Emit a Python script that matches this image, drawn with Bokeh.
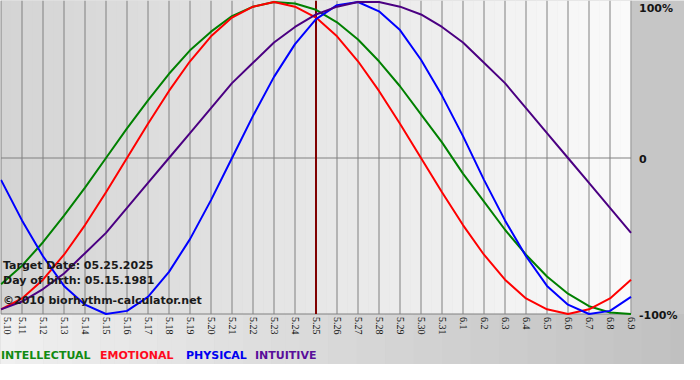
import math
import numpy as np
from bokeh.plotting import figure
from bokeh.models import Range1d, Label, LabelSet, ColumnDataSource
from bokeh.embed import file_html
from bokeh.resources import INLINE

# ---------------- data ----------------
dates = ["5.10", "5.11", "5.12", "5.13", "5.14", "5.15", "5.16", "5.17", "5.18", "5.19",
         "5.20", "5.21", "5.22", "5.23", "5.24", "5.25", "5.26", "5.27", "5.28", "5.29",
         "5.30", "5.31", "6.1", "6.2", "6.3", "6.4", "6.5", "6.6", "6.7", "6.8", "6.9"]

intellectual = [-0.81, -0.69, -0.54, -0.37, -0.19, 0.00, 0.19, 0.37, 0.54, 0.69, 0.81, 0.91,
                0.97, 1.00, 0.99, 0.95, 0.87, 0.76, 0.62, 0.46, 0.28, 0.10, -0.10, -0.28,
                -0.46, -0.62, -0.76, -0.87, -0.95, -0.99, -1.00]
emotional = [-0.97, -0.90, -0.78, -0.62, -0.43, -0.22, 0.00, 0.22, 0.43, 0.62, 0.78, 0.90,
             0.97, 1.00, 0.97, 0.90, 0.78, 0.62, 0.43, 0.22, 0.00, -0.22, -0.43, -0.62,
             -0.78, -0.90, -0.97, -1.00, -0.97, -0.90, -0.78]
physical = [-0.14, -0.40, -0.63, -0.82, -0.94, -1.00, -0.98, -0.89, -0.73, -0.52, -0.27, 0.00,
            0.27, 0.52, 0.73, 0.89, 0.98, 1.00, 0.94, 0.82, 0.63, 0.40, 0.14, -0.14,
            -0.40, -0.63, -0.82, -0.94, -1.00, -0.98, -0.89]
intuitive = [-0.97, -0.92, -0.84, -0.74, -0.61, -0.48, -0.32, -0.16, 0.00, 0.16, 0.32, 0.48,
             0.61, 0.74, 0.84, 0.92, 0.97, 1.00, 1.00, 0.97, 0.92, 0.84, 0.74, 0.61,
             0.48, 0.32, 0.16, 0.00, -0.16, -0.32, -0.48]

series_names = ["INTELLECTUAL", "EMOTIONAL", "PHYSICAL", "INTUITIVE"]
series_values = [intellectual, emotional, physical, intuitive]
line_colors = ["#008000", "#ff0000", "#0000ff", "#4b0082"]
text_colors = ["#128a12", "#ff0a1e", "#0000f0", "#5a0f9a"]

y_ticks = [1, 0, -1]
y_tick_labels = ["100%", "0", "-100%"]

target_date = "5.25"
info_lines = ["Target Date: 05.25.2025", "Day of birth: 05.15.1981",
              "\u00a92010 biorhythm-calculator.net"]

# ---------------- layout constants ----------------
W, H = 684, 364
FONT = "DejaVu Sans"
PX_DAY = 21.0          # pixels per day
PX_UNIT = 156.0        # pixels per 100%
BOTTOM_PX = 313.5      # pixel row of -100%

days = list(range(len(dates)))
d_first, d_last = days[0], days[-1]
x_start = -0.5 / PX_DAY
x_end = x_start + W / PX_DAY
y_top = -1 + BOTTOM_PX / PX_UNIT
y_bot = -1 - (H - BOTTOM_PX) / PX_UNIT

p = figure(width=W, height=H, output_backend="svg", toolbar_location=None,
           x_range=Range1d(x_start, x_end), y_range=Range1d(y_bot, y_top),
           x_axis_location=None, y_axis_location=None, min_border=0)
p.outline_line_color = None
p.grid.visible = False
p.background_fill_color = "#c6c6c6"
p.border_fill_color = "#c6c6c6"

# plot-area gradient (left darker -> right lighter)
n = 60
edges = np.linspace(x_start, d_last, n + 1)
c0, c1 = 0xd4, 0xfa
cols = ["#%02x%02x%02x" % ((int(round(c0 + (c1 - c0) * (i + 0.5) / n)),) * 3) for i in range(n)]
p.quad(left=edges[:-1], right=edges[1:] + 0.02, bottom=-1, top=y_top,
       fill_color=cols, line_color=None, level="image")

# bottom strip gradient (light left -> darker right)
m = 48
bedges = np.linspace(x_start, x_end, m + 1)
b0, b1 = 0xf0, 0xc0
bcols = ["#%02x%02x%02x" % ((int(round(b0 + (b1 - b0) * (i + 0.5) / m)),) * 3) for i in range(m)]
p.quad(left=bedges[:-1], right=bedges[1:] + 0.02, bottom=y_bot, top=-1,
       fill_color=bcols, line_color=None, level="image")

# vertical day grid lines, zero line and bottom line
p.segment(x0=days, y0=[-1] * len(days), x1=days, y1=[y_top] * len(days),
          line_color="#808080", line_width=1, level="underlay")
p.segment(x0=[d_first, d_first], y0=[0, -1], x1=[d_last, d_last], y1=[0, -1],
          line_color="#808080", line_width=1, level="underlay")

# target date line
t = dates.index(target_date)
p.segment(x0=[days[t]], y0=[-1], x1=[days[t]], y1=[y_top],
          line_color="#800000", line_width=2, level="underlay")

# curves
for vals, col in zip(series_values, line_colors):
    p.line(days, vals, line_color=col, line_width=2)

# x tick labels (rotated, reading downward); first one nudged so it stays on the canvas
tick_dx = [6] + [0] * (len(days) - 1)
tick_src = ColumnDataSource(dict(x=days, y=[-1] * len(days), text=dates, dx=tick_dx))
p.add_layout(LabelSet(x="x", y="y", text="text", source=tick_src, angle=-math.pi / 2,
                      x_offset="dx", y_offset=-3, text_font=FONT, text_font_size="10px",
                      text_color="#111111", text_align="left", text_baseline="middle"))

# right side value labels
y_offsets = [-6, -1, -1]
for v, lab, off in zip(y_ticks, y_tick_labels, y_offsets):
    p.add_layout(Label(x=d_last, y=v, x_offset=8, y_offset=off, text=lab,
                       text_font=FONT, text_font_size="11px", text_font_style="bold",
                       text_color="#151515", text_baseline="middle", text_align="left"))

# info texts
for lab, off in zip(info_lines, [49, 34, 14]):
    p.add_layout(Label(x=d_first, y=-1, x_offset=2, y_offset=off, text=lab,
                       text_font=FONT, text_font_size="11px", text_font_style="bold",
                       text_color="#1a1a1a", text_baseline="middle", text_align="left"))

# legend texts
for lab, col, xo in zip(series_names, text_colors, [0, 99, 185, 254]):
    p.add_layout(Label(x=d_first, y=-1, x_offset=xo, y_offset=-41, text=lab,
                       text_font=FONT, text_font_size="11px", text_font_style="bold",
                       text_color=col, text_baseline="middle", text_align="left"))

open("out.html", "w").write(file_html(p, INLINE))
